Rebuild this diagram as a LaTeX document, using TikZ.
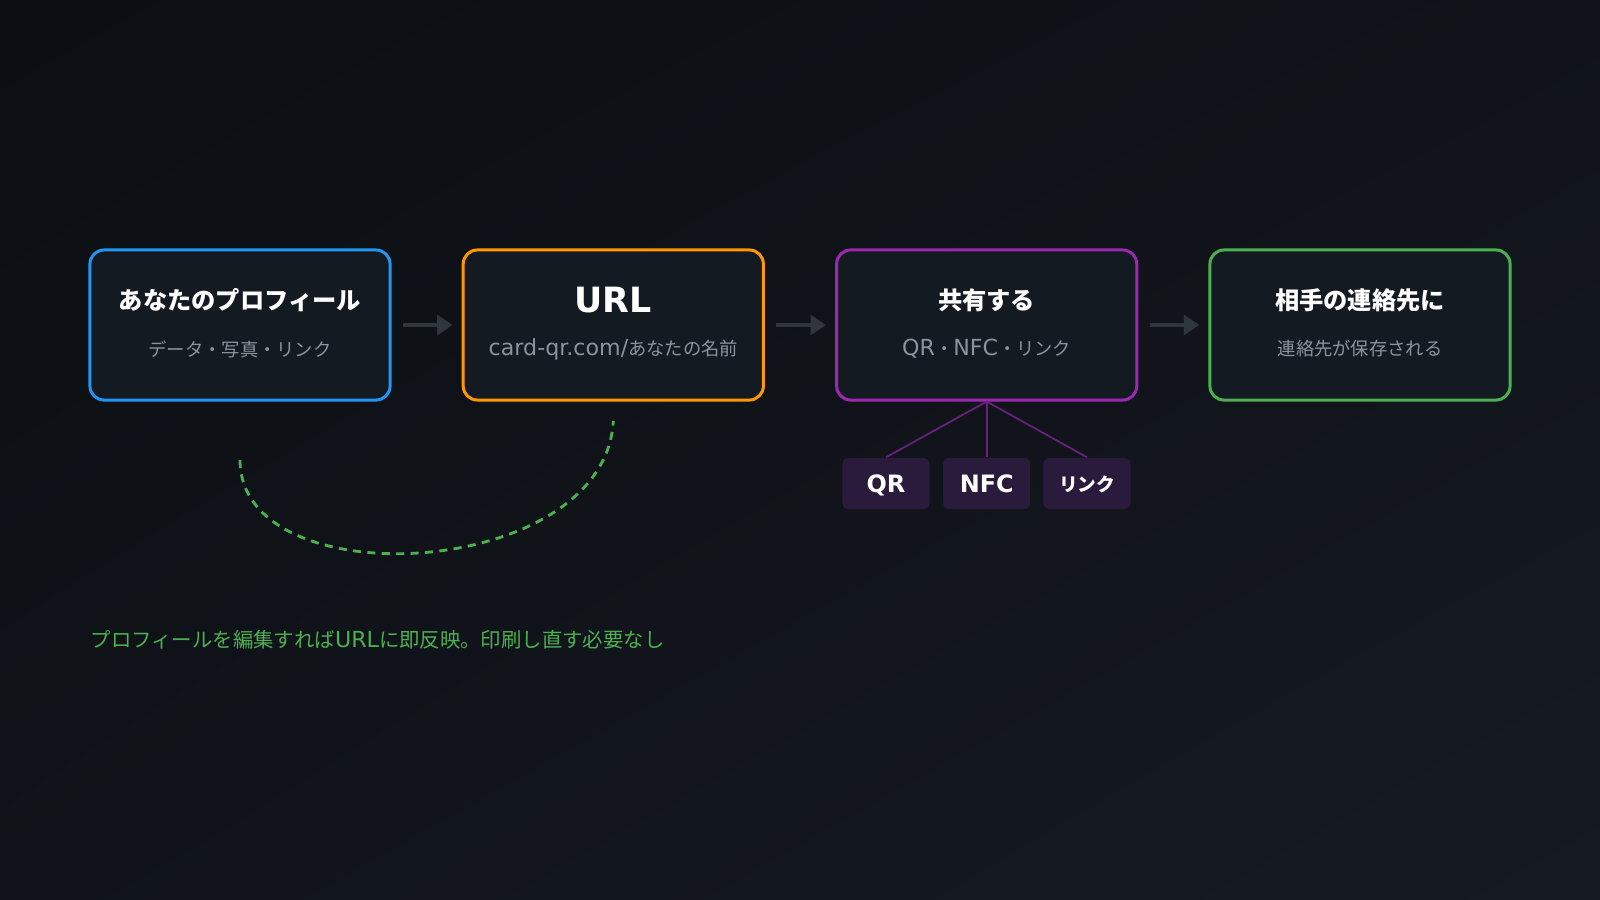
\documentclass[tikz,border=0pt]{standalone}
\usepackage{fontspec}
\setmainfont{DejaVu Sans}
\newfontfamily\jp{Noto Sans CJK JP}
\usetikzlibrary{arrows.meta,calc,shadings}
\definecolor{bgA}{HTML}{0B0E12}
\definecolor{bgB}{HTML}{161B22}
\definecolor{bgM}{HTML}{10141A}
\definecolor{boxfill}{HTML}{141A22}
\definecolor{cblue}{HTML}{2196F3}
\definecolor{corange}{HTML}{FF9800}
\definecolor{cpurple}{HTML}{9C27B0}
\definecolor{cgreen}{HTML}{4CAF50}
\definecolor{subgray}{HTML}{8B949E}
\definecolor{arrgray}{HTML}{30363D}
\definecolor{chipfill}{HTML}{2A1A3B}
\definecolor{chipline}{HTML}{6A2080}
\tikzset{
  stepbox/.style={draw, line width=0.85pt, rounded corners=4pt, fill=boxfill,
    minimum width=3cm, minimum height=1.5cm, inner sep=0pt},
  ttl/.style={text=white, font=\bfseries\fontsize{6.9pt}{8pt}\selectfont, inner sep=0pt},
  ttllatin/.style={text=white, font=\bfseries\fontsize{9.9pt}{11pt}\selectfont, inner sep=0pt},
  subt/.style={text=subgray, font=\fontsize{5.2pt}{6pt}\selectfont, inner sep=0pt},
  arr/.style={draw=arrgray, line width=1.1pt, -{Triangle[length=4.4pt,width=5.6pt]},
    shorten <=3.2pt, shorten >=2.6pt},
  chip/.style={fill=chipfill, rounded corners=1.7pt, minimum width=0.87cm,
    minimum height=0.51cm, inner sep=0pt, text=white, text height=5pt, text depth=0pt,
    font=\bfseries\fontsize{6.8pt}{8pt}\selectfont},
  chipln/.style={draw=chipline, line width=0.5pt},
  dashline/.style={draw=cgreen, line width=0.8pt, dash pattern=on 2.3pt off 1.8pt},
}
\begin{document}
\begin{tikzpicture}[x=0.01cm,y=-0.01cm]
\useasboundingbox (0,0) rectangle (1600,900);
\shade[upper left=bgA, lower right=bgB, upper right=bgM, lower left=bgM] (0,0) rectangle (1600,900);

% main boxes
\node[stepbox, draw=cblue]   (b1) at (240,325) {};
\node[stepbox, draw=corange] (b2) at (613.3,325) {};
\node[stepbox, draw=cpurple] (b3) at (986.7,325) {};
\node[stepbox, draw=cgreen]  (b4) at (1360,325) {};

% titles
\node[ttl] (t1) at (240,300) {\jp あなたのプロフィール};
\node[ttllatin] (t2) at (613.3,300) {URL};
\node[ttl] (t3) at (986.7,300) {\jp 共有する};
\node[ttl] (t4) at (1360,300) {\jp 相手の連絡先に};

% subtitles
\node[subt] (s1) at (240,349) {\jp データ・写真・リンク};
\node[subt, font=\fontsize{6.3pt}{7pt}\selectfont] (s2) at (613.3,349) {card-qr.com/{\jp\fontsize{5.2pt}{6pt}\selectfont あなたの名前}};
\node[subt, font=\fontsize{6.3pt}{7pt}\selectfont] (s3) at (986.7,349) {QR{\jp\fontsize{5.2pt}{6pt}\selectfont ・}NFC{\jp\fontsize{5.2pt}{6pt}\selectfont ・リンク}};
\node[subt] (s4) at (1360,349) {\jp 連絡先が保存される};

% arrows
\draw[arr] (b1.east) -- (b2.west);
\draw[arr] (b2.east) -- (b3.west);
\draw[arr] (b3.east) -- (b4.west);

% chips
\node[chip] (c1) at (886,483.5) {QR};
\node[chip] (c2) at (986.7,483.5) {NFC};
\node[chip, font=\bfseries\fontsize{5.3pt}{6pt}\selectfont, text height=4.4pt] (c3) at (1087,483.5) {\jp リンク};
\draw[chipln] (b3.south) -- (c1.north);
\draw[chipln] (b3.south) -- (c2.north);
\draw[chipln] (b3.south) -- (c3.north);

% dashed loop
\coordinate (d1) at (240,460);
\coordinate (d2) at (613.3,421);
\draw[dashline] (d1) .. controls (240,600) and (605,580) .. (d2);

% note
\node[anchor=west, text=cgreen, inner sep=0pt, font=\fontsize{6.3pt}{7pt}\selectfont] (note) at (90,640)
  {{\jp\fontsize{5.8pt}{7pt}\selectfont プロフィールを編集すれば}URL{\jp\fontsize{5.8pt}{7pt}\selectfont に即反映。印刷し直す必要なし}};
\end{tikzpicture}
\end{document}
